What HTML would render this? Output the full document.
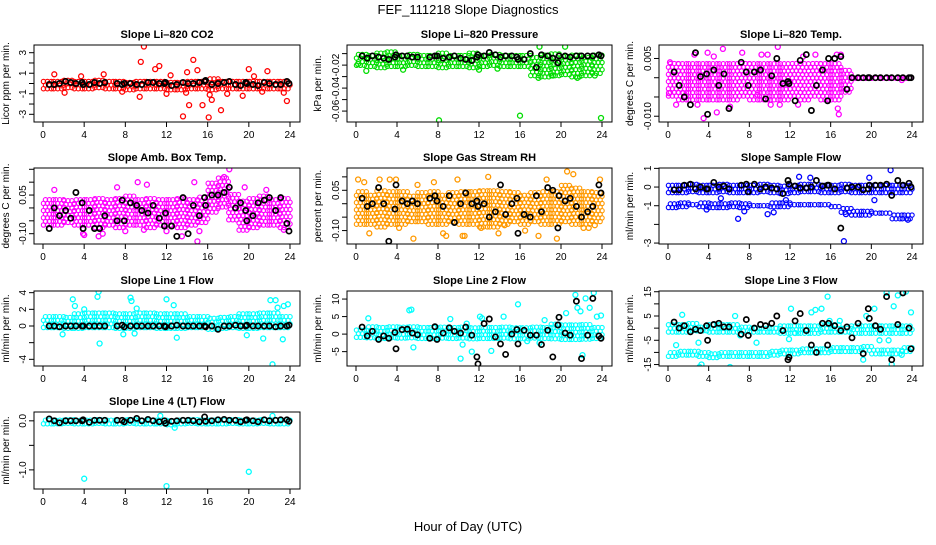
<!DOCTYPE html>
<html><head><meta charset="utf-8"><style>
html,body{margin:0;padding:0;background:#fff}
svg text{font-family:"Liberation Sans",sans-serif}
</style></head><body>
<svg id="c" xmlns="http://www.w3.org/2000/svg" width="936" height="540" viewBox="0 0 936 540">
<rect width="936" height="540" fill="#fff"/>
<text x="468" y="14" text-anchor="middle" font-size="13">FEF_111218  Slope Diagnostics</text>
<text x="468" y="531" text-anchor="middle" font-size="13">Hour of Day (UTC)</text>
</svg>
<script>
const blackHours=[0.6,1.1,1.6,2.2,2.7,3.2,3.8,3.9,4.5,5.0,5.5,6.0,7.2,7.7,7.9,8.5,9.1,9.6,10.2,10.7,11.3,11.8,11.9,12.5,13.0,13.6,14.1,14.6,15.2,15.7,15.8,16.4,17.0,17.6,18.1,18.7,19.2,19.7,19.8,20.4,20.9,21.5,22.0,22.6,23.1,23.7,23.9];
const xTicks=[0,4,8,12,16,20,24];

const co2Lo=[-0.6,-0.6,-0.5,-0.6,-0.6,-0.5,-0.6,-0.6,-0.7,-0.6,-0.6,-0.6,-0.7,-0.7,-0.6,-0.6,-0.7,-0.6,-0.6,-0.6,-0.6,-0.6,-0.6,-0.6];
const co2Hi=[0.4,0.5,0.5,0.5,0.5,0.6,0.5,0.5,0.5,0.5,0.5,0.5,0.5,0.5,0.5,0.6,0.6,0.5,0.5,0.5,0.5,0.5,0.5,0.5];
const co2OutX=[9.8,9.5,10.9,11.3,13.6,14.0,14.2,14.6,15.0,15.5,16.1,16.2,16.4,17.3,17.9,20.0,20.5,21.8,19.4,23.7,9.4,2.1,5.9,3.7,7.7,12.0,12.4,13.9,1.1,21.3,23.4];
const co2OutY=[3.6,2.1,1.4,1.7,-3.2,1.1,-2.1,2.3,1.3,-2.1,-3.3,-1.1,-1.6,-2.6,-1.0,1.4,0.7,1.2,-1.2,-1.7,-1.3,-0.9,0.9,0.7,-0.8,-1.0,0.8,-0.9,0.9,-0.8,-0.9];
const co2Black=[-0.1,-0.1,0,0.2,0.1,0,0.1,-0.1,-0.1,0.1,0,0.1,0,-0.1,0,0,-0.1,-0.1,0.1,0.1,0,0,0.1,-0.2,-0.1,0.1,0,0,0.1,0.2,0.3,-0.1,0,0.1,0.2,-0.1,-0.2,0.1,0,-0.1,-0.2,0.1,0,-0.1,-0.1,0.2,0];

const prLo=[-0.021,-0.022,-0.023,-0.022,-0.022,-0.021,-0.022,-0.022,-0.023,-0.022,-0.022,-0.023,-0.022,-0.021,-0.022,-0.022,-0.022,-0.03,-0.031,-0.03,-0.029,-0.031,-0.03,-0.028];
const prHi=[-0.008,-0.008,-0.007,-0.007,-0.008,-0.008,-0.008,-0.008,-0.008,-0.008,-0.008,-0.008,-0.008,-0.007,-0.008,-0.008,-0.008,-0.01,-0.009,-0.009,-0.009,-0.009,-0.01,-0.01];
const prOutX=[1.0,8.1,16.0,23.9,17.8,21.6,17.9,0.2,4.6,12.0,13.8,19.2,23.3,20.4];
const prOutY=[-0.025,-0.068,-0.064,-0.066,-0.031,-0.031,-0.004,-0.019,-0.024,-0.024,-0.023,-0.029,-0.029,-0.004];
const prBlack=[-0.012,-0.014,-0.012,-0.013,-0.014,-0.015,-0.013,-0.011,-0.012,-0.012,-0.013,-0.013,-0.013,-0.012,-0.012,-0.014,-0.013,-0.012,-0.014,-0.015,-0.016,-0.013,-0.011,-0.012,-0.009,-0.011,-0.013,-0.012,-0.012,-0.013,-0.015,-0.015,-0.01,-0.022,-0.011,-0.012,-0.014,-0.018,-0.012,-0.012,-0.013,-0.012,-0.012,-0.012,-0.012,-0.011,-0.012];

const tpLo=[-0.005,-0.006,-0.006,-0.006,-0.006,-0.006,-0.006,-0.005,-0.006,-0.006,-0.006,-0.006,-0.005,-0.006,-0.005,-0.006,-0.006,-0.004,-0.0004,-0.0004,-0.0004,-0.0004,-0.0004,-0.0004];
const tpHi=[0.004,0.004,0.004,0.004,0.004,0.004,0.004,0.004,0.004,0.004,0.004,0.004,0.004,0.004,0.004,0.004,0.004,0.003,0.0004,0.0004,0.0004,0.0004,0.0004,0.0004];
const tpOutX=[5.4,10.8,3.5,16.8,16.7,4.8,0.1,0.8,2.6,3.9,7.3,9.2,10.1,6.1,11.0,14.5,16.6,2.9,4.5,8.8,1.5,12.8,13.3,9.8,0.2,17.0,23.0];
const tpOutY=[0.0075,0.008,-0.0105,-0.0095,-0.008,-0.009,-0.004,-0.007,0.006,0.0065,0.0065,0.006,-0.007,-0.0075,-0.007,0.006,0.006,-0.007,0.0055,-0.0045,-0.004,-0.007,0.0055,0.006,0.004,0.006,-0.0006];
const tpBlack=[0.0015,-0.002,-0.005,-0.007,0.0065,0.0003,0.001,-0.0095,0.002,-0.002,0.001,-0.008,0.004,0.0015,-0.002,0.0015,0.002,-0.0055,0.0005,0.005,-0.0015,-0.001,-0.0015,-0.006,0.0045,0.006,-0.0085,-0.002,0.002,-0.006,0.005,0.005,0.0055,-0.003,0,0,0,0,0,0,0,0,0,0,0,0,0];

const abLo=[-0.07,-0.07,-0.06,-0.07,-0.07,-0.08,-0.07,-0.08,-0.07,-0.07,-0.08,-0.07,-0.07,-0.08,-0.07,-0.06,-0.02,0.0,-0.05,-0.09,-0.08,-0.07,-0.07,-0.08];
const abHi=[0.04,0.04,0.04,0.04,0.04,0.04,0.04,0.04,0.05,0.04,0.04,0.04,0.04,0.05,0.04,0.05,0.1,0.12,0.06,0.03,0.05,0.05,0.04,0.04];
const abOutX=[15.0,15.2,13.5,4.0,5.4,18.1,17.6,9.2,8.0,23.4,1.1,7.2,14.7,9.8,12.0,19.6,21.7,3.9,5.8,10.1];
const abOutY=[-0.13,-0.09,-0.11,-0.105,-0.11,0.15,0.12,0.1,-0.09,-0.085,0.07,0.08,0.1,-0.085,-0.09,0.08,0.07,-0.1,-0.1,0.09];
const abBlack=[-0.08,0,-0.03,-0.01,-0.04,0.06,0.02,-0.08,-0.01,-0.08,-0.08,-0.03,-0.05,0.03,-0.05,0.02,0.01,-0.01,-0.02,0.01,-0.04,-0.07,-0.02,-0.07,-0.11,0.04,-0.1,0.01,-0.03,0.04,0.01,0.05,0.05,0.06,0.08,0.0,0.02,-0.01,-0.05,-0.03,0.02,0.03,0.04,-0.01,0.04,-0.06,-0.09];

const rhLo=[-0.08,-0.08,-0.09,-0.08,-0.08,-0.07,-0.07,-0.08,-0.08,-0.07,-0.08,-0.08,-0.09,-0.09,-0.08,-0.07,-0.08,-0.07,-0.08,-0.08,-0.07,-0.08,-0.08,-0.07];
const rhHi=[0.05,0.04,0.06,0.05,0.05,0.04,0.05,0.06,0.04,0.05,0.06,0.05,0.06,0.06,0.06,0.05,0.04,0.05,0.06,0.06,0.08,0.07,0.05,0.05];
const rhOutX=[0.2,0.8,1.3,2.3,3.3,4.2,5.6,7.6,8.5,8.8,9.9,10.4,10.6,12.2,12.9,13.9,14.5,16.5,17.8,18.6,19.6,20.6,21.2,22.2,22.7,23.3,23.8,6.0,3.9];
const rhOutY=[0.09,0.08,-0.11,0.09,0.09,-0.09,-0.13,0.08,-0.11,-0.12,0.09,-0.12,-0.12,-0.09,0.1,-0.11,-0.08,-0.1,-0.12,0.09,-0.13,0.12,0.11,-0.09,-0.09,-0.08,0.09,0.07,0.09];
const rhBlack=[0.02,-0.01,0,0.06,0,-0.14,-0.02,0.07,0.01,0,0.01,0,0.02,0.03,0.01,-0.01,0.03,-0.07,0,0.04,0,0.01,-0.01,0,-0.05,-0.03,0.07,-0.04,0,0.02,-0.11,-0.04,-0.05,0.03,-0.03,0.06,0.05,-0.09,0.03,0.01,0.02,-0.01,-0.05,-0.03,-0.01,0.07,0.04];

const sfLo=[-0.35,-0.35,-0.3,-0.35,-0.35,-0.3,-0.35,-0.35,-0.35,-0.3,-0.35,-0.4,-0.35,-0.3,-0.3,-0.35,-0.35,-0.3,-0.35,-0.35,-0.35,-0.35,-0.35,-0.35];
const sfHi=[0.2,0.25,0.25,0.25,0.25,0.25,0.25,0.25,0.25,0.25,0.3,0.25,0.25,0.25,0.3,0.25,0.2,0.25,0.25,0.25,0.3,0.25,0.25,0.25];
const sfLo2=[-1.15,-1.1,-1.0,-1.1,-1.15,-1.15,-1.1,-1.15,-1.05,-1.05,-1.1,-1.1,-1.0,-1.0,-1.0,-1.0,-1.1,-1.4,-1.55,-1.55,-1.45,-1.45,-1.75,-1.75];
const sfHi2=[-0.8,-0.75,-0.75,-0.8,-0.85,-0.85,-0.8,-0.8,-0.8,-0.8,-0.75,-0.75,-0.75,-0.75,-0.75,-0.8,-0.85,-1.0,-1.15,-1.2,-1.2,-1.2,-1.45,-1.45];
const sfOutX=[6.9,17.3,21.9,7.5,9.8,10.4,12.9,14.0,19.8,20.3,3.8,5.2,11.6,17.5,23.6];
const sfOutY=[-1.7,-2.9,0.9,-1.3,-1.45,-1.35,0.55,0.5,0.5,-0.7,-1.2,-0.6,-0.7,-1.45,-1.75];
const sfBlack=[-0.15,-0.15,0.1,0.15,-0.1,0,-0.1,-0.1,0.25,0,0.05,-0.1,0.1,0.15,-0.25,0.15,-0.1,0,-0.05,-0.1,-0.35,0.35,0.15,0.05,-0.05,-0.05,0,0.35,0.05,0.1,0.1,-0.1,-2.2,-0.05,0,0,-0.15,-0.1,0.1,0.1,0.1,0.15,-0.45,0.35,0.1,0.2,0];

const l1Lo=[-0.3,-0.3,-0.4,-0.4,-0.3,-0.3,-0.3,-0.4,-0.4,-0.3,-0.3,-0.4,-0.4,-0.4,-0.3,-0.3,-0.5,-0.4,-0.3,-0.4,-0.4,-0.3,-0.3,-0.3];
const l1Hi=[1.4,1.6,1.5,1.6,1.7,1.8,1.8,1.6,1.8,1.9,1.8,1.7,1.6,1.7,1.6,1.6,1.3,1.3,1.5,1.7,1.9,2.1,2.0,1.4];
const l1OutX=[2.9,3.1,5.3,5.4,5.5,8.5,8.6,12.0,12.7,22.1,22.3,22.6,22.8,23.3,23.8,1.9,7.8,8.9,13.0,19.8,21.4,23.4,4.0,9.1];
const l1OutY=[3.2,2.4,3.5,4.1,-2.1,3.4,3.0,3.2,2.5,3.1,-4.6,3.1,2.2,-1.6,2.6,-1.0,-1.0,-0.9,-1.4,-1.1,-1.5,2.4,2.0,2.1];
const l1Black=[0,0,-0.1,0,0,0,0,0,0,0,0,0,0,0.1,-0.1,0,0,0,0,0,0,0,-0.1,0,0.1,0,0,0,0,0,-0.1,0,-0.4,0,0,0.1,0,0,0.1,0,0,0,0,-0.1,0,0,0.1];

const l2Lo=[-1.2,-1.3,-1.5,-1.3,-1.4,-1.3,-1.5,-1.5,-1.4,-1.5,-1.4,-1.6,-1.5,-1.5,-1.4,-1.6,-1.6,-1.4,-1.5,-1.6,-1.8,-1.8,-1.7,-1.5];
const l2Hi=[2.2,2.5,2.6,2.4,2.3,2.7,3.0,2.8,2.6,2.7,2.6,2.8,2.9,2.7,2.6,2.8,2.6,2.5,2.7,3.2,3.6,3.8,3.6,2.8];
const l2OutX=[1.2,5.2,5.4,5.6,9.2,10.2,10.4,11.3,12.1,12.3,13.2,14.4,15.8,17.9,19.8,20.5,21.4,21.6,21.9,22.1,22.4,22.8,23.2,23.5,23.9,10.8,16.7,18.4];
const l2OutY=[4.5,6.8,7.0,-3.8,4.3,-7.0,-3.0,-5.0,5.0,4.5,-4.8,5.0,8.5,-2.5,4.8,6.0,11.2,7.5,6.5,-6.0,10.2,7.5,11.8,5.0,5.3,3.0,-2.0,4.0];
const l2Black=[2,-0.5,0.8,-1.5,-0.5,-1.2,0.5,-4.2,1.3,1.4,0.3,-0.2,-1.2,2.1,-1.5,0.3,1.8,0.8,0.3,2,-0.3,-6.5,-8.5,3,4.3,-0.8,-2.8,-5.8,0,1.3,-2.8,1.1,-0.3,-0.3,-3,1.1,-6.5,2.6,4.8,0.3,-0.3,9.4,-7,-0.3,10.2,-0.5,-1.2];

const l3Lo=[-2,-2,-1.5,-1.5,-2,-2,-2,-1.5,-2,-2,-2,-2.5,-2.5,-2.5,-2.5,-2,-2,-2,-2.5,-2.5,-2.5,-2.5,-2.5,-2.5];
const l3Hi=[2,2.5,2.5,2,2,2,2,1.5,1.5,1.5,1.5,1.5,1.5,2,1.5,2,2,1.5,1.5,1.5,1.5,1.5,1.5,1.5];
const l3Lo2=[-12,-11.5,-11.5,-12,-12.5,-12,-12,-12,-12,-12,-11.5,-11,-11,-10.5,-10.5,-10.5,-10,-10,-10,-9.5,-11,-11,-11,-10];
const l3Hi2=[-9.5,-9,-8.5,-9.5,-10,-9.5,-9.5,-9.5,-9.5,-9.5,-9,-8.5,-8,-7.5,-7.5,-8,-7.5,-7.5,-7.5,-7,-8,-8.5,-8.5,-7.5];
const l3OutX=[0.8,1.4,3.1,3.3,6.1,6.6,7.1,8.7,11.9,12.1,12.5,14.1,14.5,15.1,15.7,15.9,19.2,19.5,20.3,20.8,21.5,21.7,22.0,22.2,22.6,23.0,23.4,23.9,3.0,16.9];
const l3OutY=[-7,5.5,-16,-15,-16,5,-3,-6,-4.5,8,-2,6.5,7.5,8,13,3,-13,5,8,-5,14.5,-5,-15,9,13.5,-11,15,6.5,-6,3];
const l3Black=[2.5,0,1,-1.5,-0.5,-1,1,-5,1.5,2,0.5,0.5,-2.5,3.5,-3,0,1.5,1,2,5,-1,-13,-12,3,6,-1,-7,-10,2,-7,2,1,-1,0.5,-4,2,-10.5,8,4,1,-0.5,13,-13,1.5,14.5,0,-8.5];

const l4Lo=[-0.08,-0.08,-0.07,-0.08,-0.08,-0.07,-0.08,-0.08,-0.07,-0.08,-0.08,-0.08,-0.1,-0.08,-0.07,-0.08,-0.08,-0.08,-0.07,-0.08,-0.08,-0.07,-0.08,-0.08];
const l4Hi=[0.05,0.06,0.05,0.06,0.06,0.05,0.06,0.06,0.05,0.06,0.06,0.06,0.06,0.05,0.06,0.07,0.06,0.06,0.05,0.06,0.07,0.07,0.06,0.06];
const l4OutX=[4.0,12.0,20.0,12.8,22.3,11.4];
const l4OutY=[-1.18,-1.33,-1.04,-0.14,0.1,0.1];
const l4Black=[0.04,0,-0.04,0,0,0,0,0.02,-0.03,0.01,0.01,0.01,0.01,0.01,-0.02,0.01,0.05,0,0.03,0,-0.02,0,-0.05,-0.01,0,0.01,0.01,0,-0.02,0.08,-0.01,0,0.02,0.03,0.01,0.01,-0.02,0.01,0.02,0,-0.02,0.02,0,0.01,0.02,0.02,-0.01];

const NS='http://www.w3.org/2000/svg';
const svg=document.getElementById('c');
function mk(tag,attrs,parent){const e=document.createElementNS(NS,tag);for(const k in attrs)e.setAttribute(k,attrs[k]);(parent||svg).appendChild(e);return e;}

const cols=[{l:34,r:300,x0:43,x1:290,yl:9},{l:347,r:612,x0:356,x1:602,yl:321},{l:659,r:923,x0:668,x1:912,yl:633}];
const rows=[{t:45,b:122},{t:168,b:244},{t:291,b:366},{t:412,b:489}];

const panels=[
 {id:'co2',title:'Slope Li\u2013820 CO2',yt:'Licor ppm per min.',c:0,r:0,ymin:-3.75,ymax:3.75,ticks:[-3,-2,-1,0,1,2,3],labels:['-3','','-1','','1','','3'],col:'#ff0000',bands:[[co2Lo,co2Hi]],ox:co2OutX,oy:co2OutY,bk:co2Black},
 {id:'pressure',title:'Slope Li\u2013820 Pressure',yt:'kPa per min.',c:1,r:0,ymin:-0.0695,ymax:-0.0025,ticks:[-0.06,-0.05,-0.04,-0.03,-0.02,-0.01],labels:['-0.06','','-0.04','','-0.02',''],col:'#00dd00',bands:[[prLo,prHi]],ox:prOutX,oy:prOutY,bk:prBlack},
 {id:'temp',title:'Slope Li\u2013820 Temp.',yt:'degrees C per min.',c:2,r:0,ymin:-0.0115,ymax:0.0085,ticks:[-0.01,-0.005,0,0.005],labels:['-0.010','','','0.005'],col:'#ff00ff',bands:[[tpLo,tpHi]],ox:tpOutX,oy:tpOutY,bk:tpBlack},
 {id:'amb-box-temp',title:'Slope Amb. Box Temp.',yt:'degrees C per min.',c:0,r:1,ymin:-0.14,ymax:0.155,ticks:[-0.1,-0.05,0,0.05,0.1,0.15],labels:['-0.10','','','0.05','',''],col:'#ff00ff',bands:[[abLo,abHi]],ox:abOutX,oy:abOutY,bk:abBlack},
 {id:'gas-stream-rh',title:'Slope Gas Stream RH',yt:'percent per min.',c:1,r:1,ymin:-0.15,ymax:0.133,ticks:[-0.1,-0.05,0,0.05,0.1],labels:['-0.10','','','0.05',''],col:'#ff9900',bands:[[rhLo,rhHi]],ox:rhOutX,oy:rhOutY,bk:rhBlack},
 {id:'sample-flow',title:'Slope Sample Flow',yt:'ml/min per min.',c:2,r:1,ymin:-3.05,ymax:1.02,ticks:[-3,-2,-1,0,1],labels:['-3','','-1','0','1'],col:'#0000ff',bands:[[sfLo,sfHi],[sfLo2,sfHi2]],ox:sfOutX,oy:sfOutY,bk:sfBlack},
 {id:'line1-flow',title:'Slope Line 1 Flow',yt:'ml/min per min.',c:0,r:2,ymin:-4.8,ymax:4.2,ticks:[-4,-2,0,2,4],labels:['-4','','0','2','4'],col:'#00ffff',bands:[[l1Lo,l1Hi]],ox:l1OutX,oy:l1OutY,bk:l1Black},
 {id:'line2-flow',title:'Slope Line 2 Flow',yt:'ml/min per min.',c:1,r:2,ymin:-9.1,ymax:12.3,ticks:[-5,0,5,10],labels:['-5','0','5','10'],col:'#00ffff',bands:[[l2Lo,l2Hi]],ox:l2OutX,oy:l2OutY,bk:l2Black},
 {id:'line3-flow',title:'Slope Line 3 Flow',yt:'ml/min per min.',c:2,r:2,ymin:-15.6,ymax:15.3,ticks:[-15,-10,-5,0,5,10,15],labels:['-15','','-5','','5','','15'],col:'#00ffff',bands:[[l3Lo,l3Hi],[l3Lo2,l3Hi2]],ox:l3OutX,oy:l3OutY,bk:l3Black},
 {id:'line4-flow',title:'Slope Line 4 (LT) Flow',yt:'ml/min per min.',c:0,r:3,ymin:-1.39,ymax:0.18,ticks:[-1,-0.5,0],labels:['-1.0','','0.0'],col:'#00ffff',bands:[[l4Lo,l4Hi]],ox:l4OutX,oy:l4OutY,bk:l4Black}
];

panels.forEach(p=>{
 const C=cols[p.c],R=rows[p.r];
 const xs=h=>C.x0+(C.x1-C.x0)*h/24;
 const ys=v=>R.b-(R.b-R.t)*(v-p.ymin)/(p.ymax-p.ymin);
 const g=mk('g',{});
 
 
 const clipId='clip-'+p.id;
 const cp=mk('clipPath',{id:clipId},g);
 mk('rect',{x:C.l,y:R.t,width:C.r-C.l,height:R.b-R.t},cp);
 const pts=mk('g',{'clip-path':'url(#'+clipId+')'},g);
 
 
 p.bands.forEach(([lo,hi])=>{
  for(let h=0;h<24;h++){
   const yTop=ys(hi[h]),yBot=ys(lo[h]);
   let row=0;
   for(let y=yBot-1;y>=yTop+1;y-=3.6,row++){
    const off=(row%2)*0.19;
    for(let hx=h+off;hx<h+1-1e-6;hx+=0.38){
     const c=mk('circle',{cx:xs(hx+0.05).toFixed(1),cy:y.toFixed(1),r:2.2,fill:'none',stroke:p.col,'stroke-width':1.1},pts);
     
     
    }
   }
  }
 });
 p.ox.forEach((h,i)=>{
  const c=mk('circle',{cx:xs(h).toFixed(1),cy:ys(p.oy[i]).toFixed(1),r:2.5,fill:'none',stroke:p.col,'stroke-width':1.3},pts);
  
  
 });
 p.bk.forEach((v,i)=>{
  const c=mk('circle',{cx:xs(blackHours[i]).toFixed(1),cy:ys(v).toFixed(1),r:2.6,fill:'none',stroke:'#000','stroke-width':1.7},pts);
  
  
 });
 const box=mk('rect',{x:C.l,y:R.t,width:C.r-C.l,height:R.b-R.t,fill:'none',stroke:'#000','stroke-width':1},g);
 
 
 const t=mk('text',{x:(C.l+C.r)/2,y:R.t-7,'text-anchor':'middle','font-size':11,'font-weight':'bold'},g);
 t.textContent=p.title;
 
 
 const yt=mk('text',{x:C.yl,y:(R.t+R.b)/2,'text-anchor':'middle','font-size':10,transform:'rotate(-90 '+C.yl+' '+((R.t+R.b)/2)+')'},g);
 yt.textContent=p.yt;
 
 
 xTicks.forEach(h=>{
  mk('line',{x1:xs(h),x2:xs(h),y1:R.b,y2:R.b+5,stroke:'#000','stroke-width':1},g);
  const l=mk('text',{x:xs(h),y:R.b+16,'text-anchor':'middle','font-size':10},g);
  l.textContent=h;
  
  
 });
 p.ticks.forEach((v,i)=>{
  const y=ys(v);
  mk('line',{x1:C.l-5,x2:C.l,y1:y,y2:y,stroke:'#000','stroke-width':1},g);
  if(p.labels[i]){
   const lx=C.l-8;
   const l=mk('text',{x:lx,y:y,'text-anchor':'middle','font-size':10,transform:'rotate(-90 '+lx+' '+y+')'},g);
   l.textContent=p.labels[i];
   
   
  }
 });
});
</script>
</body></html>
